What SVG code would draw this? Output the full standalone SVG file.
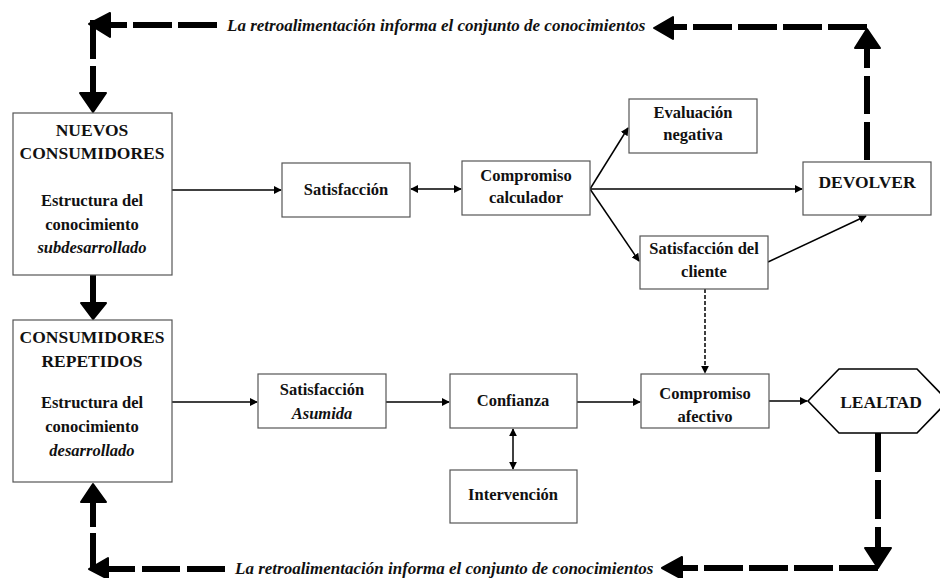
<svg xmlns="http://www.w3.org/2000/svg" width="940" height="578" viewBox="0 0 940 578">
<style>
.box{fill:#fff;stroke:#555;stroke-width:1.2}
.hex{fill:#fff;stroke:#000;stroke-width:1.6}
text{font-weight:bold;fill:#111;text-anchor:middle}
.t{font-size:16.5px}
.u{font-size:17.5px}
.i{font-style:italic}
.fb{font-size:17px;font-style:italic;text-anchor:start}
.c{fill:none;stroke:#000;stroke-width:1.5}
.d{fill:none;stroke:#000;stroke-width:1.5;stroke-dasharray:4 2}
.k{fill:none;stroke:#000;stroke-width:6}
.h{fill:#000;stroke:#000;stroke-width:2;stroke-linejoin:round}
</style>
<defs>
<marker id="a" viewBox="0 0 10 10" refX="9" refY="5" markerWidth="8" markerHeight="8" markerUnits="userSpaceOnUse" orient="auto-start-reverse">
<path d="M0,0 L10,5 L0,10 z" fill="#000"/>
</marker>
</defs>
<g font-family="'Liberation Serif', Tinos, 'Times New Roman', 'DejaVu Serif', serif">
<g id="connectors">
<path class="c" d="M172,190 H281" marker-end="url(#a)"/>
<path class="c" d="M411,189 H461" marker-start="url(#a)" marker-end="url(#a)"/>
<path class="c" d="M590,189 L628,128" marker-end="url(#a)"/>
<path class="c" d="M590,189 H802" marker-end="url(#a)"/>
<path class="c" d="M590,189 L639,261" marker-end="url(#a)"/>
<path class="c" d="M768,262 L866,216" marker-end="url(#a)"/>
<path class="d" d="M705,289 V373" marker-end="url(#a)"/>
<path class="c" d="M172,402 H257" marker-end="url(#a)"/>
<path class="c" d="M386,402 H449" marker-end="url(#a)"/>
<path class="c" d="M577,402 H640" marker-end="url(#a)"/>
<path class="c" d="M769,401 H807" marker-end="url(#a)"/>
<path class="c" d="M513,429 V469" marker-start="url(#a)" marker-end="url(#a)"/>
<path class="k" d="M93,275 V304"/>
<polygon class="h" points="81,303 106,303 93,319"/>
<path class="k" d="M217,25 H110" stroke-dasharray="39 6"/>
<polygon class="h" points="89,24 110,13 110,37"/>
<path class="k" d="M93,20 V93" stroke-dasharray="39 7"/>
<polygon class="h" points="80,93 106,93 93,112"/>
<path class="k" d="M867,27 H673" stroke-dasharray="39 6"/>
<polygon class="h" points="654,28 673,17 673,39"/>
<path class="k" d="M867,160 V48" stroke-dasharray="38 8"/>
<polygon class="h" points="867,29 880,48 855,48"/>
<path class="k" d="M93,502 V569" stroke-dasharray="25 6 40 6"/>
<polygon class="h" points="81,502 106,502 93,484"/>
<path class="k" d="M225,569 H108" stroke-dasharray="38 7"/>
<polygon class="h" points="89,569 108,558 108,579"/>
<path class="k" d="M878,433 V549" stroke-dasharray="39 8"/>
<polygon class="h" points="865,548 891,548 878,568"/>
<path class="k" d="M878,568 H681" stroke-dasharray="39 6"/>
<polygon class="h" points="662,568 682,557 682,579"/>
<text class="fb" x="227" y="31">La retroalimentación informa el conjunto de conocimientos</text>
<text class="fb" x="235" y="574">La retroalimentación informa el conjunto de conocimientos</text>
</g>
<g id="nuevos">
<rect class="box" x="13" y="113" width="159" height="162"/>
<text class="u" x="92" y="136">NUEVOS</text>
<text class="u" x="92" y="159">CONSUMIDORES</text>
<text class="t" x="92" y="206">Estructura del</text>
<text class="t" x="92" y="230">conocimiento</text>
<text class="t i" x="92" y="253">subdesarrollado</text>
</g>
<g id="repetidos">
<rect class="box" x="13" y="320" width="159" height="162"/>
<text class="u" x="92" y="343">CONSUMIDORES</text>
<text class="u" x="92" y="367">REPETIDOS</text>
<text class="t" x="92" y="408">Estructura del</text>
<text class="t" x="92" y="432">conocimiento</text>
<text class="t i" x="92" y="456">desarrollado</text>
</g>
<g id="satisfaccion">
<rect class="box" x="282" y="163" width="128" height="54"/>
<text class="t" x="346" y="195">Satisfacción</text>
</g>
<g id="compromiso-calculador">
<rect class="box" x="462" y="161" width="128" height="54"/>
<text class="t" x="526" y="181">Compromiso</text>
<text class="t" x="526" y="203">calculador</text>
</g>
<g id="evaluacion-negativa">
<rect class="box" x="629" y="99" width="128" height="54"/>
<text class="t" x="693" y="118">Evaluación</text>
<text class="t" x="693" y="140">negativa</text>
</g>
<g id="devolver">
<rect class="box" x="803" y="162" width="128" height="53"/>
<text class="u" x="867" y="188">DEVOLVER</text>
</g>
<g id="satisfaccion-cliente">
<rect class="box" x="640" y="236" width="128" height="53"/>
<text class="t" x="704" y="254">Satisfacción del</text>
<text class="t" x="704" y="277">cliente</text>
</g>
<g id="satisfaccion-asumida">
<rect class="box" x="258" y="374" width="128" height="54"/>
<text class="t" x="322" y="395">Satisfacción</text>
<text class="t i" x="322" y="419">Asumida</text>
</g>
<g id="confianza">
<rect class="box" x="450" y="374" width="127" height="54"/>
<text class="t" x="513" y="406">Confianza</text>
</g>
<g id="intervencion">
<rect class="box" x="450" y="470" width="127" height="53"/>
<text class="t" x="513" y="500">Intervención</text>
</g>
<g id="compromiso-afectivo">
<rect class="box" x="641" y="374" width="128" height="54"/>
<text class="t" x="705" y="399">Compromiso</text>
<text class="t" x="705" y="422">afectivo</text>
</g>
<g id="lealtad">
<polygon class="hex" points="808,401 839,369 917,369 948,401 917,433 839,433"/>
<text class="u" x="881" y="408">LEALTAD</text>
</g>
</g>
</svg>
